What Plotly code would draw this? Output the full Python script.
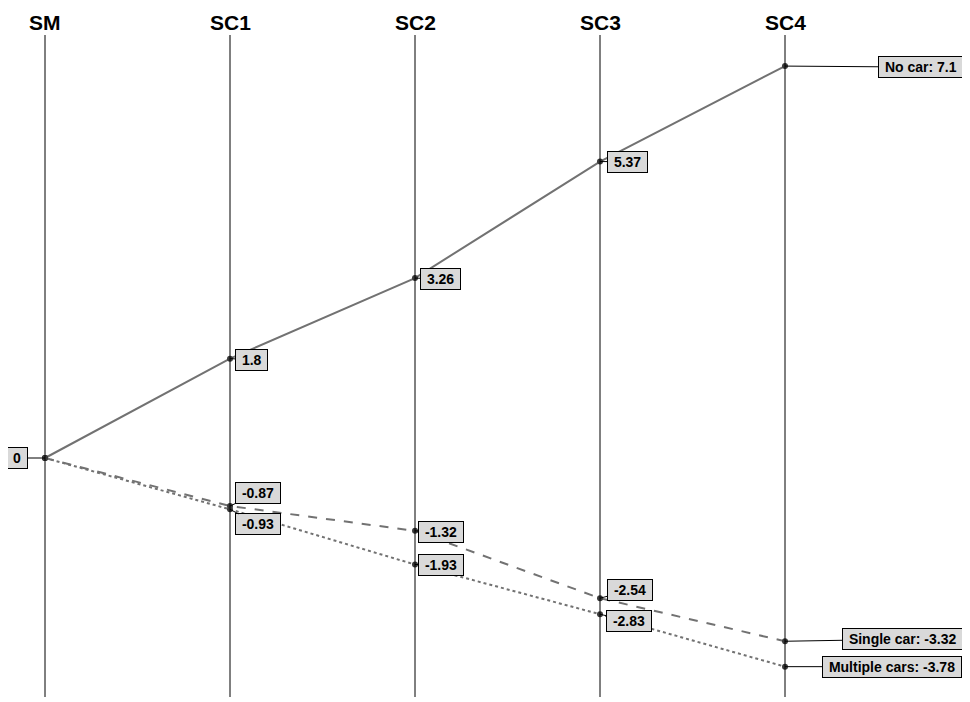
import plotly.graph_objects as go

# stages and modal-share changes per car-ownership group
stages = ["SM", "SC1", "SC2", "SC3", "SC4"]
no_car = [0, 1.8, 3.26, 5.37, 7.1]
single_car = [0, -0.87, -1.32, -2.54, -3.32]
multiple_cars = [0, -0.93, -1.93, -2.83, -3.78]

series = [
    ("No car", no_car, "solid"),
    ("Single car", single_car, "dash"),
    ("Multiple cars", multiple_cars, "dot"),
]

# pixel offsets of each label box from its point (ax, ay)
offsets = {
    "No car": [(-28, 0), (21, 1), (25, 1), (27, 0), (135, 1)],
    "Single car": [None, (28, -13), (26, 1), (30, -8), (117, -2)],
    "Multiple cars": [None, (28, 15), (26, 0), (29, 7), (107, 0)],
}

LINE_GREY = "#727272"
NB = "\u00a0"

# page body adds an 8px margin, so the figure is 962x694
W, H = 962, 694
X0, DX = 37, 185          # first stage position and spacing (px)
Y0, DY = 450, 55.2        # zero line (px) and px per unit

fig = go.Figure()

# vertical stage axes
for i, s in enumerate(stages):
    fig.add_shape(type="line", x0=i, x1=i, y0=1 - 689 / H, y1=1 - 27 / H,
                  xref="x", yref="paper", line=dict(color="black", width=1))
    fig.add_annotation(x=i, y=1 - 14 / H, xref="x", yref="paper", text=s,
                       showarrow=False, yanchor="middle",
                       font=dict(family="Liberation Sans, Arial", size=21,
                                 color="black", weight="bold"))

for name, vals, dash in series:
    fig.add_trace(go.Scatter(
        x=list(range(len(stages))), y=vals, mode="lines+markers", name=name,
        line=dict(color=LINE_GREY, width=2, dash=dash),
        marker=dict(size=6, color="#3a3a3a"),
        showlegend=False, hoverinfo="skip"))

    for i, v in enumerate(vals):
        off = offsets[name][i]
        if off is None:
            continue
        txt = f"{v:g}"
        if i == len(vals) - 1:
            txt = f"{name}: {v:g}"
        fig.add_annotation(
            x=i, y=v, xref="x", yref="y", text=NB + txt + NB,
            showarrow=True, arrowhead=0, arrowwidth=1, arrowcolor="black",
            standoff=0, ax=off[0], ay=off[1],
            bgcolor="#d9d9d9", bordercolor="black", borderwidth=1, borderpad=2,
            font=dict(family="Liberation Sans, Arial", size=14,
                      color="black", weight="bold"))

fig.update_layout(
    width=W, height=H,
    margin=dict(l=0, r=0, t=0, b=0),
    paper_bgcolor="white", plot_bgcolor="white",
    xaxis=dict(range=[-X0 / DX, (W - X0) / DX], visible=False, fixedrange=True),
    yaxis=dict(range=[-(H - Y0) / DY, Y0 / DY], visible=False, fixedrange=True),
)

fig.write_html("out.html")
